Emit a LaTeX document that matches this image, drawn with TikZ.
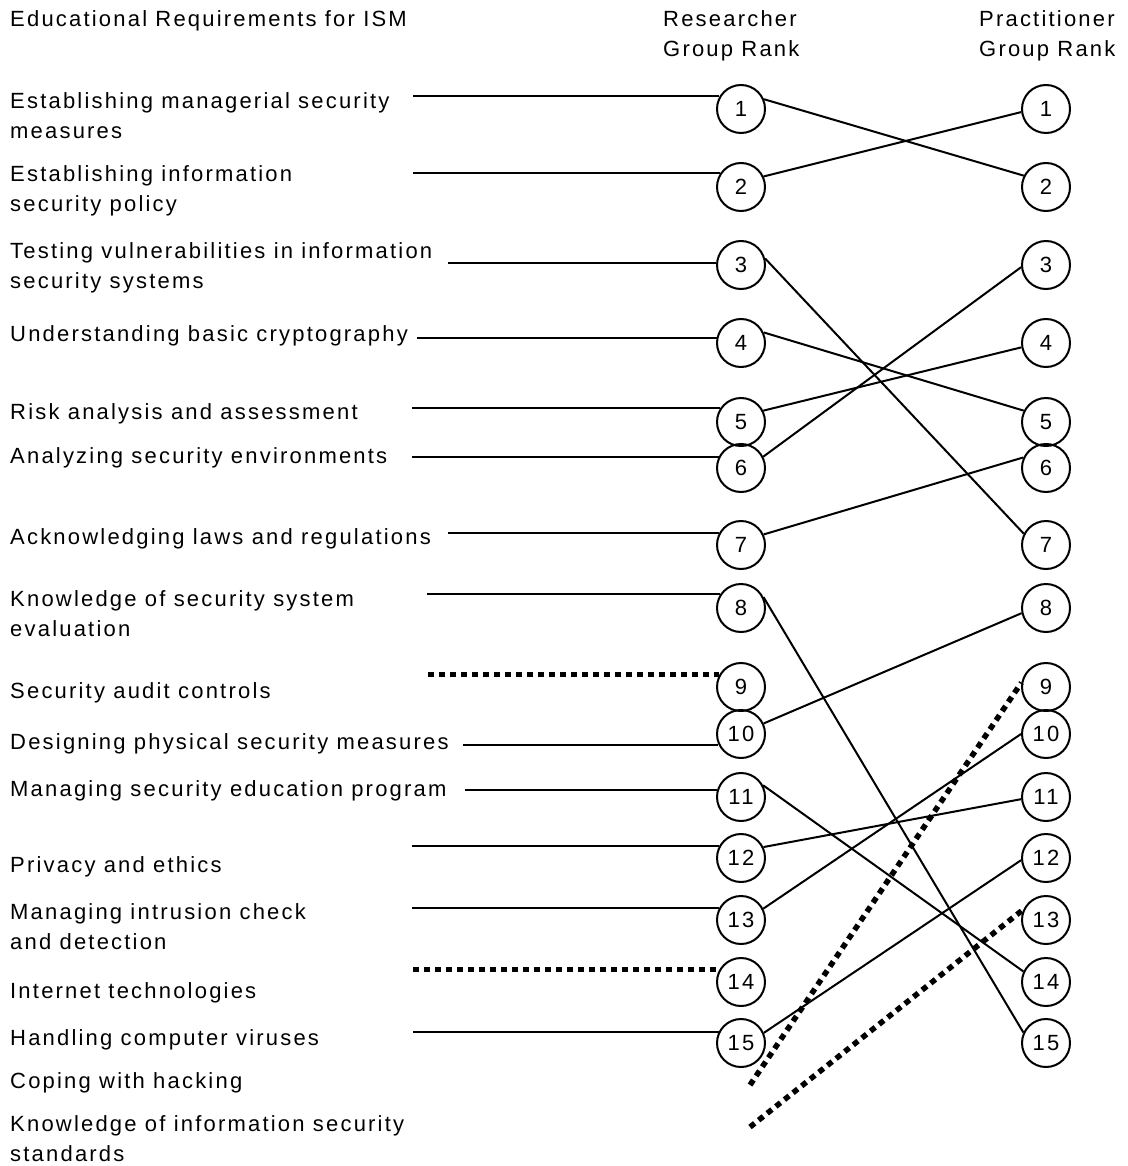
\documentclass[tikz,border=0pt]{standalone}
\usepackage{fontspec}
\setmainfont{Liberation Sans}[LetterSpace=10]
\usetikzlibrary{calc}

\tikzset{
  rank/.style={circle, draw, line width=2pt, minimum size=48pt, inner sep=0pt,
    font=\fontsize{22}{24}\selectfont},
  req/.style={anchor=base west, inner sep=0pt, align=left,
    font=\fontsize{22}{30}\selectfont},
  link/.style={line width=2pt},
  missing/.style={line width=5.5pt, dash pattern=on 6pt off 5pt},
}

\begin{document}
\begin{tikzpicture}[x=1pt, y=-1pt]
  \useasboundingbox (0,0) rectangle (1127,1166);

  % headings (base = last line)
  \node[req] (head) at (10,27) {Educational Requirements for ISM};
  \node[req] (rhead) at (663,57) {Researcher\\Group Rank};
  \node[req] (phead) at (979,57) {Practitioner\\Group Rank};

  % requirements
  \node[req] (req1) at (10,139) {Establishing managerial security\\measures};
  \node[req] (req2) at (10,212) {Establishing information\\security policy};
  \node[req] (req3) at (10,288) {Testing vulnerabilities in information\\security systems};
  \node[req] (req4) at (10,341) {Understanding basic cryptography};
  \node[req] (req5) at (10,419) {Risk analysis and assessment};
  \node[req] (req6) at (10,463) {Analyzing security environments};
  \node[req] (req7) at (10,544) {Acknowledging laws and regulations};
  \node[req] (req8) at (10,636) {Knowledge of security system\\evaluation};
  \node[req] (req9) at (10,698) {Security audit controls};
  \node[req] (req10) at (10,749) {Designing physical security measures};
  \node[req] (req11) at (10,796) {Managing security education program};
  \node[req] (req12) at (10,872) {Privacy and ethics};
  \node[req] (req13) at (10,949) {Managing intrusion check\\and detection};
  \node[req] (req14) at (10,998) {Internet technologies};
  \node[req] (req15) at (10,1045) {Handling computer viruses};
  \node[req] (req16) at (10,1088) {Coping with hacking};
  \node[req] (req17) at (10,1161) {Knowledge of information security\\standards};

  % rank circles
  \foreach \y [count=\i] in {109,187,265,343,422,468,545,608,687,734,797,858,920,982,1043} {
    \node[rank] (R\i) at (741,\y) {\i};
    \node[rank] (P\i) at (1046,\y) {\i};
  }

  % requirement to researcher rank
  \foreach \i/\a/\x in {1/150/413, 2/147/413, 3/175/448, 4/168/417, 5/147/412,
      6/153/412, 7/150/448, 8/147/427, 10/205/463, 11/163/465, 12/150/412,
      13/150/412, 15/153/413} {
    \coordinate (L\i) at (R\i.\a -| \x,0);
    \draw[link] (L\i) -- (R\i.\a);
  }
  \coordinate (L9) at (R9.150 -| 428,0);
  \coordinate (L14) at (R14.150 -| 413,0);
  \draw[missing] (L9) -- (R9.150);
  \draw[missing] (L14) -- (R14.150);

  % researcher rank to practitioner rank
  \foreach \r/\p/\a/\b in {1/2/23/153, 2/1/25/187, 3/7/15/153, 4/5/25/153,
      5/4/27/190, 6/3/27/185, 7/6/25/155, 8/15/26/155, 10/8/25/192,
      11/14/28/155, 12/11/26/185, 13/10/27/180, 15/12/24/185} {
    \draw[link] (R\r.\a) -- (P\p.\b);
  }

  % not ranked by researchers
  \coordinate (hack) at (750,1085);
  \coordinate (stds) at (750,1127);
  \draw[missing] (hack) -- (P9.170);
  \draw[missing] (stds) -- (P13.155);
\end{tikzpicture}
\end{document}
